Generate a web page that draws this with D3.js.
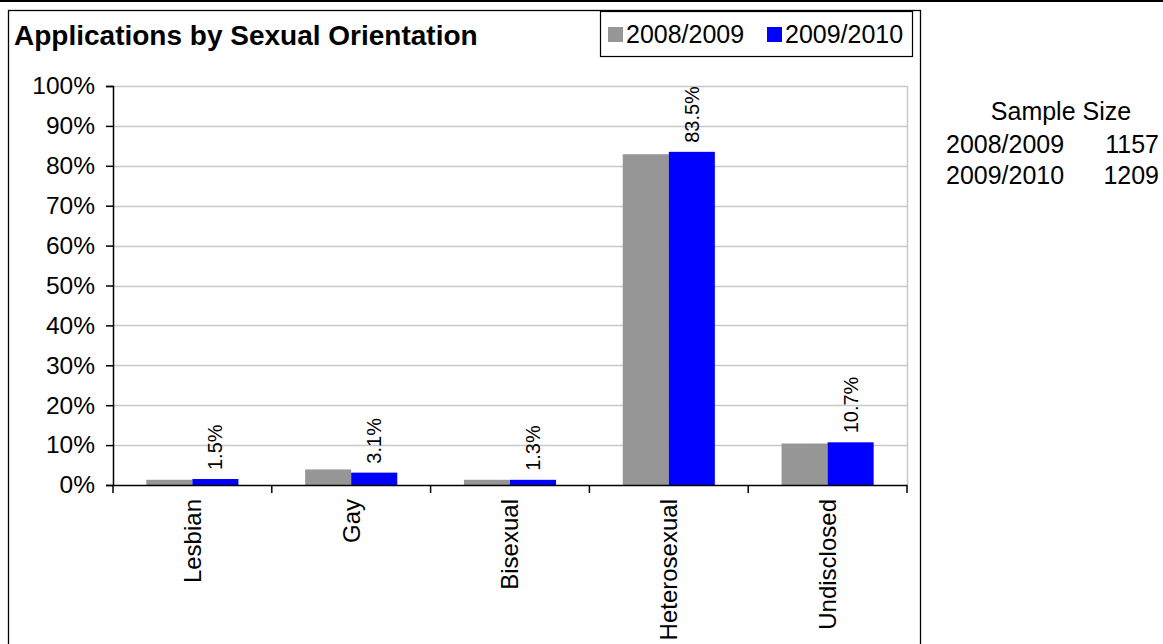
<!DOCTYPE html>
<html>
<head>
<meta charset="utf-8">
<script src="https://cdn.jsdelivr.net/npm/d3@7"></script>
<style>
  body { margin: 0; background: #fff; }
  svg { display: block; font-family: "Liberation Sans", Arial, sans-serif; }
</style>
</head>
<body>
<svg id="chart"></svg>
<script>
// data
const categories = ['Lesbian', 'Gay', 'Bisexual', 'Heterosexual', 'Undisclosed'];
const seriesNames = ['2008/2009', '2009/2010'];
const values0809 = [0.013, 0.039, 0.013, 0.829, 0.104];
const values0910 = [0.015, 0.031, 0.013, 0.835, 0.107];
const yTicks = [0, 0.1, 0.2, 0.3, 0.4, 0.5, 0.6, 0.7, 0.8, 0.9, 1.0];
const sampleYears = ['2008/2009', '2009/2010'];
const sampleSizes = [1157, 1209];
const colors = ['#969696', '#0000ff'];

class BarChart {

    constructor(_config) {
        this.config = {
            parentElement: _config.parentElement,
            width: _config.width || 1163,
            height: _config.height || 644,
            plot: {left: 113, right: 907, top: 86, bottom: 485}
        };
        this.initVis();
    }

    initVis() {
        let vis = this;
        const p = vis.config.plot;

        vis.svg = d3.select(vis.config.parentElement)
            .attr('width', vis.config.width)
            .attr('height', vis.config.height);

        vis.x0 = d3.scaleBand()
            .domain(categories)
            .range([p.left, p.right])
            .paddingInner(0).paddingOuter(0);

        vis.x1 = d3.scaleBand()
            .domain(seriesNames)
            .range([vis.x0.bandwidth() * 0.21, vis.x0.bandwidth() * 0.79]);

        vis.y = d3.scaleLinear()
            .domain([0, 1])
            .range([p.bottom, p.top]);

        vis.rows = categories.map((c, i) => ({
            cat: c,
            vals: [values0809[i], values0910[i]]
        }));
    }

    render() {
        let vis = this;
        const p = vis.config.plot;
        const W = vis.config.width;

        // top rule and outer frame
        vis.svg.append('line')
            .attr('x1', 0).attr('x2', W).attr('y1', 1).attr('y2', 1)
            .attr('stroke', '#000').attr('stroke-width', 2);
        vis.svg.append('rect')
            .attr('x', 8.5).attr('y', 10.5)
            .attr('width', 912).attr('height', 700)
            .attr('fill', 'none').attr('stroke', '#000').attr('stroke-width', 1.3);

        // title
        vis.svg.append('text')
            .attr('x', 14).attr('y', 45)
            .attr('font-size', 28).attr('font-weight', 'bold')
            .text('Applications by Sexual Orientation');

        // gridlines
        vis.svg.append('g')
            .selectAll('line')
            .data(yTicks.slice(1))
            .join('line')
                .attr('x1', p.left).attr('x2', p.right)
                .attr('y1', d => Math.round(vis.y(d)) + 0.5)
                .attr('y2', d => Math.round(vis.y(d)) + 0.5)
                .attr('stroke', '#c8c8c8').attr('stroke-width', 1.5);

        // plot area right border
        vis.svg.append('line')
            .attr('x1', p.right + 0.5).attr('x2', p.right + 0.5)
            .attr('y1', p.top).attr('y2', p.bottom)
            .attr('stroke', '#c8c8c8').attr('stroke-width', 1.5);

        // bars
        vis.svg.append('g')
            .selectAll('g')
            .data(vis.rows)
            .join('g')
                .attr('transform', d => `translate(${vis.x0(d.cat)},0)`)
            .selectAll('rect')
            .data(d => d.vals.map((v, i) => ({name: seriesNames[i], v: v, i: i})))
            .join('rect')
                .attr('x', d => vis.x1(d.name))
                .attr('width', vis.x1.bandwidth())
                .attr('y', d => vis.y(d.v))
                .attr('height', d => vis.y(0) - vis.y(d.v))
                .attr('fill', d => colors[d.i]);

        // labels on 2009/2010 bars
        vis.svg.append('g')
            .selectAll('text')
            .data(vis.rows)
            .join('text')
                .attr('transform', d => {
                    const cx = vis.x0(d.cat) + vis.x1('2009/2010') + vis.x1.bandwidth() / 2;
                    return `translate(${cx},${vis.y(d.vals[1]) - 9}) rotate(-90)`;
                })
                .attr('dy', '0.35em')
                .attr('font-size', 20)
                .text(d => d3.format('.1%')(d.vals[1]));

        // y axis
        const yAxis = d3.axisLeft(vis.y)
            .tickValues(yTicks)
            .tickFormat(d3.format('.0%'))
            .tickSize(7)
            .tickPadding(11);
        vis.svg.append('g')
            .attr('transform', `translate(${p.left},0)`)
            .call(yAxis)
            .call(g => g.select('.domain').attr('stroke-width', 1.5))
            .call(g => g.selectAll('.tick line').attr('stroke-width', 1.5))
            .call(g => g.selectAll('text')
                .attr('font-size', 24.5).attr('font-family', null).attr('fill', '#000'));

        // x axis with ticks at category boundaries
        const xAxis = d3.axisBottom(vis.x0).tickSize(0).tickPadding(14);
        vis.svg.append('g')
            .attr('transform', `translate(0,${p.bottom})`)
            .call(xAxis)
            .call(g => g.select('.domain').attr('stroke-width', 1.5))
            .call(g => g.selectAll('text')
                .attr('font-size', 24).attr('font-family', null).attr('fill', '#000')
                .attr('text-anchor', 'end')
                .attr('transform', 'rotate(-90)')
                .attr('x', -14).attr('y', 0).attr('dy', '0.35em'));

        vis.svg.append('g')
            .selectAll('line')
            .data(categories.map(c => vis.x0(c)).concat([p.right]))
            .join('line')
                .attr('x1', d => d).attr('x2', d => d)
                .attr('y1', p.bottom).attr('y2', p.bottom + 8)
                .attr('stroke', '#000').attr('stroke-width', 1.5);

        // legend
        const lg = vis.svg.append('g');
        lg.append('rect')
            .attr('x', 600.5).attr('y', 11.5).attr('width', 312).attr('height', 45)
            .attr('fill', '#fff').attr('stroke', '#000').attr('stroke-width', 1.2);
        const legendX = [608, 767];
        seriesNames.forEach((s, i) => {
            lg.append('rect')
                .attr('x', legendX[i]).attr('y', 27).attr('width', 15).attr('height', 15)
                .attr('fill', colors[i]);
            lg.append('text')
                .attr('x', legendX[i] + 18).attr('y', 43)
                .attr('font-size', 25)
                .text(s);
        });

        // sample size table
        const ss = vis.svg.append('g').attr('font-size', 25);
        ss.append('text')
            .attr('x', 1061).attr('y', 120)
            .attr('text-anchor', 'middle')
            .text('Sample Size');
        ss.selectAll('.yr')
            .data(sampleYears)
            .join('text').attr('class', 'yr')
                .attr('x', 946).attr('y', (d, i) => 153 + i * 31)
                .text(d => d);
        ss.selectAll('.n')
            .data(sampleSizes)
            .join('text').attr('class', 'n')
                .attr('x', 1159).attr('y', (d, i) => 153 + i * 31)
                .attr('text-anchor', 'end')
                .text(d => d);
    }
}

const chart = new BarChart({parentElement: '#chart', width: 1163, height: 644});
chart.render();
</script>
</body>
</html>
